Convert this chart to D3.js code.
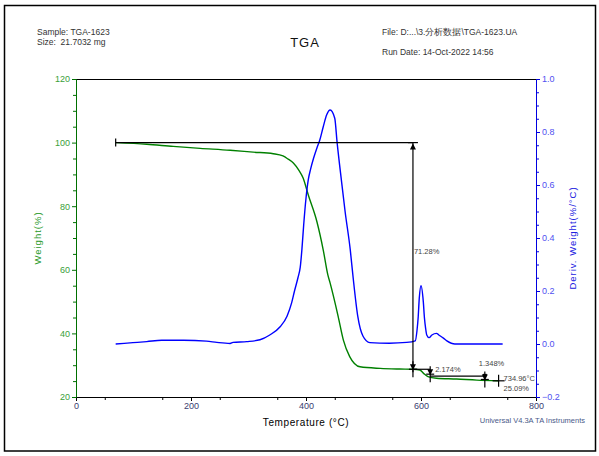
<!DOCTYPE html>
<html>
<head>
<meta charset="utf-8">
<script src="https://cdn.jsdelivr.net/npm/d3@7"></script>
<style>
  body { margin: 0; background: #fff; }
  text { font-family: "Liberation Sans", Arial, sans-serif; white-space: pre; }
</style>
</head>
<body>
<svg width="599" height="456"></svg>
<script>
// TGA weight curve
var tgaTemp   = [69, 123, 169, 216, 268, 308, 343, 360, 369, 378, 388, 395, 404, 419, 430, 438, 442, 456, 465, 476, 494, 529, 563, 586, 598, 604, 612, 627, 662, 697, 735];
var tgaWeight = [100, 99.5, 98.8, 98.2, 97.6, 97.0, 96.5, 95.8, 94.8, 93.6, 91.2, 88.9, 83.5, 75.1, 66.2, 58.4, 55.8, 45.3, 37.9, 32.7, 29.5, 29.0, 28.8, 28.72, 28.5, 27.5, 26.4, 25.9, 25.66, 25.3, 25.09];

// derivative curve
var dtgTemp  = [69, 99, 123, 149, 187, 227, 245, 268, 273, 297, 320, 337, 355, 367, 375, 380, 386, 390, 393, 396, 400, 404, 408, 413, 419, 424, 430, 436, 442, 450, 454, 462, 468, 477, 482, 490, 499, 511, 545, 575, 590, 593, 595, 597, 600, 604, 606, 608, 610, 614, 619, 627, 631, 639, 645, 659, 700, 742];
var dtgDeriv = [0, 0.005, 0.009, 0.014, 0.014, 0.011, 0.006, 0.002, 0.006, 0.009, 0.016, 0.034, 0.065, 0.105, 0.155, 0.2, 0.25, 0.29, 0.36, 0.45, 0.55, 0.62, 0.66, 0.70, 0.74, 0.77, 0.82, 0.865, 0.883, 0.852, 0.763, 0.61, 0.5, 0.355, 0.25, 0.105, 0.03, 0.005, 0.003, 0.006, 0.012, 0.05, 0.098, 0.173, 0.22, 0.16, 0.098, 0.06, 0.034, 0.024, 0.034, 0.04, 0.034, 0.022, 0.012, 0.0, 0.0, 0.0];

// step analysis
var stepTemp   = [69, 586, 616, 711];
var stepWeight = [100, 28.72, 26.55, 25.20];
var stepLabels = ["71.28%", "2.174%", "1.348%"];
var endPoint = {temp: 734.96, weight: 25.09};

var xTicks = [0, 200, 400, 600, 800];
var wTicks = [20, 40, 60, 80, 100, 120];
var dTicks = [-0.2, 0.0, 0.2, 0.4, 0.6, 0.8, 1.0];

var svg = d3.select("svg");

var x = d3.scaleLinear().domain([0, 800]).range([76, 536]);
var yW = d3.scaleLinear().domain([20, 120]).range([397, 79]);
var yD = d3.scaleLinear().domain([-0.2, 1.0]).range([397, 79]);

// outer frame
svg.append("rect").attr("x", 4.5).attr("y", 5.5).attr("width", 591).attr("height", 445.5)
    .attr("fill", "none").attr("stroke", "#000").attr("stroke-width", 1.5);

// header
var hdr = svg.append("g").attr("font-size", 8.5).attr("fill", "#333");
hdr.append("text").attr("x", 37).attr("y", 35).text("Sample: TGA-1623");
hdr.append("text").attr("x", 37).attr("y", 45).text("Size:  21.7032 mg");
hdr.append("text").attr("x", 382).attr("y", 35).text("File: D:...\\3.分析数据\\TGA-1623.UA");
hdr.append("text").attr("x", 382).attr("y", 55).text("Run Date: 14-Oct-2022 14:56");
svg.append("text").attr("x", 305).attr("y", 47).attr("text-anchor", "middle")
    .attr("font-size", 13).attr("letter-spacing", 1).attr("fill", "#111").text("TGA");

// top border
svg.append("line").attr("x1", 76).attr("x2", 536).attr("y1", 79.5).attr("y2", 79.5)
    .attr("stroke", "#000");

// bottom axis
var xAxis = svg.append("g").attr("transform", "translate(0,397)")
    .call(d3.axisBottom(x).tickValues(xTicks).tickSize(4).tickPadding(2).tickFormat(d3.format("d")));
xAxis.selectAll(".tick text").attr("font-size", 9).attr("fill", "#3a4070").attr("font-family", "Liberation Sans, Arial");
xAxis.select(".domain").attr("stroke", "#000");
svg.append("g").attr("transform", "translate(0,397)")
    .call(d3.axisBottom(x).tickValues(d3.range(50, 800, 100)).tickSize(3).tickFormat(""))
    .select(".domain").remove();

// left axis
var wAxis = svg.append("g").attr("transform", "translate(76,0)")
    .call(d3.axisLeft(yW).tickValues(wTicks).tickSize(4).tickPadding(2));
wAxis.select(".domain").attr("stroke", "#007000");
wAxis.selectAll(".tick line").attr("stroke", "#007000");
wAxis.selectAll(".tick text").attr("font-size", 9).attr("fill", "#3aa03a").attr("font-family", "Liberation Sans, Arial");
var wMinor = svg.append("g").attr("transform", "translate(76,0)")
    .call(d3.axisLeft(yW).tickValues(d3.range(25, 120, 5).filter(function(d) { return d % 20 != 0; })).tickSize(3).tickFormat(""));
wMinor.select(".domain").remove();
wMinor.selectAll(".tick line").attr("stroke", "#007000");

// right axis
var dAxis = svg.append("g").attr("transform", "translate(536,0)")
    .call(d3.axisRight(yD).tickValues(dTicks).tickSize(4).tickPadding(2).tickFormat(d3.format(".1f")));
dAxis.select(".domain").attr("stroke", "#0000e0");
dAxis.selectAll(".tick line").attr("stroke", "#0000e0");
dAxis.selectAll(".tick text").attr("font-size", 9).attr("fill", "#5050f0").attr("font-family", "Liberation Sans, Arial");
var dMinor = svg.append("g").attr("transform", "translate(536,0)")
    .call(d3.axisRight(yD).tickValues(d3.range(-0.15, 1.0, 0.05).filter(function(d) { return Math.abs(Math.round(d * 10) - d * 10) > 0.01 || Math.round(d * 10) % 2 != 0; })).tickSize(3).tickFormat(""));
dMinor.select(".domain").remove();
dMinor.selectAll(".tick line").attr("stroke", "#0000e0");

// axis titles
svg.append("text").attr("transform", "translate(41,238) rotate(-90)").attr("text-anchor", "middle")
    .attr("font-size", 9.5).attr("letter-spacing", 1).attr("fill", "#2a9a2a").text("Weight(%)");
svg.append("text").attr("transform", "translate(576,238) rotate(-90)").attr("text-anchor", "middle")
    .attr("font-size", 9.5).attr("letter-spacing", 1).attr("fill", "#2020e0").text("Deriv. Weight(%/°C)");
svg.append("text").attr("x", 306).attr("y", 426).attr("text-anchor", "middle")
    .attr("font-size", 10).attr("letter-spacing", 0.6).attr("fill", "#000").text("Temperature (°C)");
svg.append("text").attr("x", 585).attr("y", 423).attr("text-anchor", "end")
    .attr("font-size", 7.5).attr("fill", "#4a5a8a").text("Universal V4.3A TA Instruments");

// curves
var tgaData = tgaTemp.map(function(t, i) { return {t: t, v: tgaWeight[i]}; });
var dtgData = dtgTemp.map(function(t, i) { return {t: t, v: dtgDeriv[i]}; });

svg.append("path").datum(tgaData)
    .attr("fill", "none").attr("stroke", "#008000").attr("stroke-width", 1.4)
    .attr("d", d3.line().x(function(d) { return x(d.t); }).y(function(d) { return yW(d.v); }).curve(d3.curveMonotoneX));

svg.append("path").datum(dtgData)
    .attr("fill", "none").attr("stroke", "#0000ff").attr("stroke-width", 1.4)
    .attr("d", d3.line().x(function(d) { return x(d.t); }).y(function(d) { return yD(d.v); }).curve(d3.curveMonotoneX));

// step analysis marks
var ann = svg.append("g").attr("stroke", "#000").attr("stroke-width", 1.2).attr("fill", "none");

function cursor(cx, cy) {
    ann.append("line").attr("x1", cx).attr("x2", cx).attr("y1", cy - 8).attr("y2", cy + 8);
    ann.append("line").attr("x1", cx - 4).attr("x2", cx + 4).attr("y1", cy).attr("y2", cy);
    ann.append("path").attr("fill", "#000").attr("stroke", "none")
        .attr("d", "M" + (cx - 3) + "," + (cy - 5) + "L" + (cx + 3) + "," + (cy - 5) + "L" + cx + "," + (cy + 1) + "Z");
}

// 71.28% bracket
ann.append("line").attr("x1", x(stepTemp[0])).attr("x2", x(stepTemp[1]))
    .attr("y1", yW(stepWeight[0])).attr("y2", yW(stepWeight[0]));
ann.append("line").attr("x1", x(stepTemp[0])).attr("x2", x(stepTemp[0]))
    .attr("y1", yW(stepWeight[0]) - 4).attr("y2", yW(stepWeight[0]) + 4);
ann.append("line").attr("x1", x(stepTemp[1])).attr("x2", x(stepTemp[1]))
    .attr("y1", yW(stepWeight[0])).attr("y2", yW(stepWeight[1]) + 3);
ann.append("line").attr("x1", x(stepTemp[1]) - 5).attr("x2", x(stepTemp[1]) + 5)
    .attr("y1", yW(stepWeight[0])).attr("y2", yW(stepWeight[0]));
ann.append("path").attr("fill", "#000").attr("stroke", "none")
    .attr("d", "M" + (x(stepTemp[1]) - 3) + "," + (yW(stepWeight[0]) + 7) + "L" + (x(stepTemp[1]) + 3) + "," + (yW(stepWeight[0]) + 7) + "L" + x(stepTemp[1]) + "," + (yW(stepWeight[0]) + 1) + "Z");
cursor(x(stepTemp[1]), yW(stepWeight[1]));

// 2.174% and 1.348% steps
ann.append("line").attr("x1", x(stepTemp[1])).attr("x2", x(stepTemp[2]))
    .attr("y1", yW(stepWeight[1])).attr("y2", yW(stepWeight[1]));
cursor(x(stepTemp[2]), yW(stepWeight[2]) - 2);
ann.append("line").attr("x1", x(stepTemp[2])).attr("x2", x(stepTemp[3]))
    .attr("y1", yW(stepWeight[2])).attr("y2", yW(stepWeight[2]));
cursor(x(stepTemp[3]), yW(stepWeight[3]) - 1);
ann.append("line").attr("x1", x(stepTemp[3]) - 2).attr("x2", x(stepTemp[3]) + 2)
    .attr("y1", yW(stepWeight[3]) - 6).attr("y2", yW(stepWeight[3]) - 6);

// end point
var ex = x(endPoint.temp), ey = yW(endPoint.weight);
ann.append("line").attr("x1", ex - 6).attr("x2", ex + 6).attr("y1", ey).attr("y2", ey);
ann.append("line").attr("x1", ex).attr("x2", ex).attr("y1", ey - 6).attr("y2", ey + 6);

var lab = svg.append("g").attr("font-size", 7.5).attr("fill", "#444");
lab.append("text").attr("x", x(stepTemp[1]) + 1).attr("y", 254).text(stepLabels[0]);
lab.append("text").attr("x", x(stepTemp[2]) + 5).attr("y", yW(stepWeight[1]) + 3).text(stepLabels[1]);
lab.append("text").attr("x", x(stepTemp[3]) - 6).attr("y", yW(stepWeight[2]) - 10).text(stepLabels[2]);
lab.append("text").attr("x", ex + 5).attr("y", ey).text(endPoint.temp.toFixed(2) + "°C");
lab.append("text").attr("x", ex + 5).attr("y", ey + 10).text(endPoint.weight.toFixed(2) + "%");
</script>
</body>
</html>
